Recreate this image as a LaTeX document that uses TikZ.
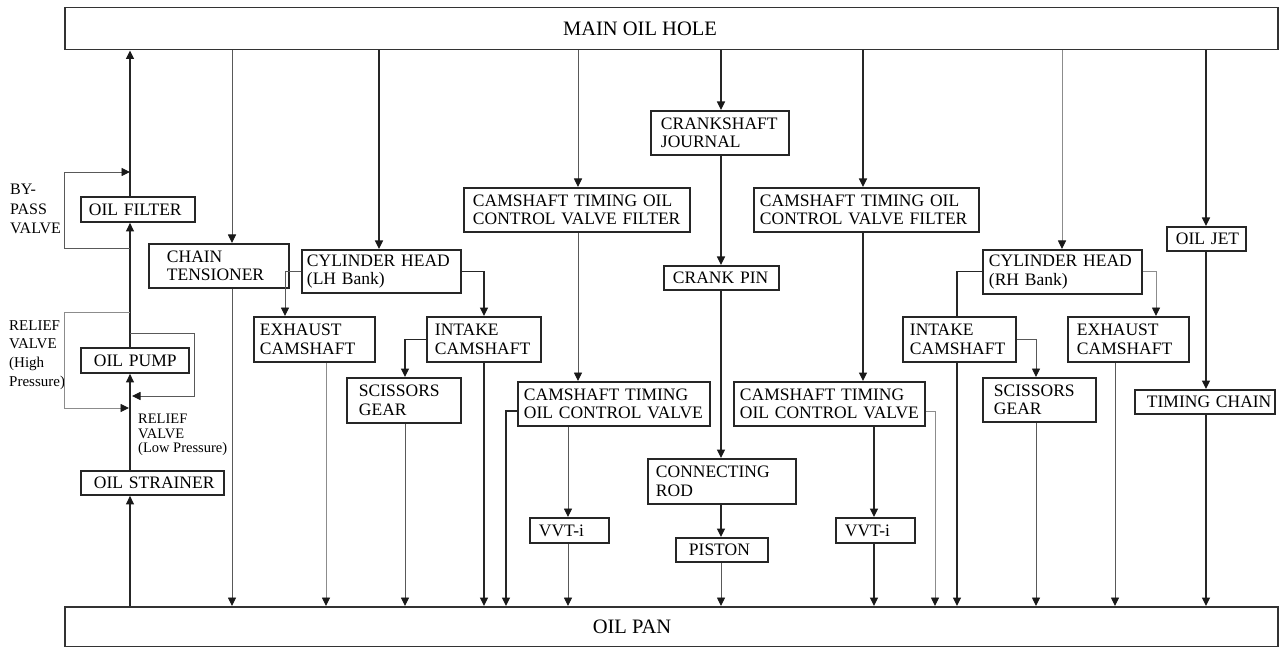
\documentclass[tikz,border=0pt]{standalone}
\usepackage{fontspec}
\setmainfont{Liberation Serif}
\usetikzlibrary{arrows.meta}
\begin{document}
\begin{tikzpicture}[x=1pt,y=-1pt,
  bx/.style={draw=black!85, line width=1.9pt, fill=white, anchor=north west, align=left, inner ysep=0pt, font={\fontsize{17.5}{18.5}\selectfont\hyphenpenalty=10000\exhyphenpenalty=10000}},
  big/.style={draw=black!80, line width=1.5pt, anchor=north west, minimum width=1213pt, inner sep=0pt},
  bigtxt/.style={font=\fontsize{20.5}{22}\selectfont, inner sep=0pt},
  note/.style={align=left, inner sep=0pt, anchor=west},
  ln/.style={draw=black!85, line width=1.1pt},
  lm/.style={draw=black!65, line width=0.9pt},
  ll/.style={draw=black!45, line width=0.9pt},
  >={Triangle[length=8.5pt,width=8pt,color=black!90]}
]
\fill[white] (0,0) rectangle (1283,647);
\useasboundingbox (0,0) rectangle (1283,647);

% column positions
\coordinate (cA) at (130,0);
\coordinate (cB) at (232,0);
\coordinate (cC) at (379,0);
\coordinate (cD) at (285,0);
\coordinate (cE) at (484,0);
\coordinate (cF) at (405,0);
\coordinate (cG) at (326,0);
\coordinate (cH) at (578,0);
\coordinate (cI) at (568,0);
\coordinate (cJ) at (506,0);
\coordinate (cK) at (721,0);
\coordinate (cL) at (863,0);
\coordinate (cM) at (874,0);
\coordinate (cN) at (1062,0);
\coordinate (cO) at (1156,0);
\coordinate (cP) at (1036,0);
\coordinate (cQ) at (1115,0);
\coordinate (cR) at (1206,0);
\coordinate (cS) at (935,0);
\coordinate (cT) at (957,0);

% big boxes
\node[big, minimum height=42pt] (main) at (64,7) {};
\node[bigtxt] (mainlbl) at (640,29) {MAIN OIL HOLE};
\node[big, minimum height=40pt] (pan) at (64,606) {};
\node[bigtxt] (panlbl) at (632,627) {OIL PAN};

% boxes
\node[bx, text width=98pt, inner xsep=8pt, minimum height=25pt] (filter) at (80,196) {OIL~FILTER};
\node[bx, text width=82pt, inner xsep=13pt, minimum height=25pt] (pump) at (80,347) {OIL~PUMP};
\node[bx, text width=117pt, inner xsep=13pt, minimum height=24pt] (strainer) at (80,470) {OIL~STRAINER};
\node[bx, text width=104pt, inner xsep=18pt, minimum height=44pt] (chain) at (148,243) {CHAIN\\TENSIONER};
\node[bx, text width=149pt, inner xsep=5pt, minimum height=43pt] (cylL) at (301,249) {CYLINDER~HEAD\\(LH~Bank)};
\node[bx, text width=109pt, inner xsep=6pt, minimum height=45pt] (exhL) at (253,316) {EXHAUST\\CAMSHAFT};
\node[bx, text width=98pt, inner xsep=8pt, minimum height=45pt] (intL) at (426,316) {INTAKE\\CAMSHAFT};
\node[bx, text width=90pt, inner xsep=12pt, minimum height=45pt] (scL) at (346,377) {SCISSORS\\GEAR};
\node[bx, text width=208pt, inner xsep=9pt, minimum height=44pt] (ctfL) at (463,187) {CAMSHAFT~TIMING~OIL\\CONTROL~VALVE~FILTER};
\node[bx, text width=180pt, inner xsep=6pt, minimum height=44pt] (ctL) at (517,381) {CAMSHAFT~TIMING\\OIL~CONTROL~VALVE};
\node[bx, text width=61pt, inner xsep=9pt, minimum height=25pt] (vvtL) at (529,517) {VVT-i};
\node[bx, text width=118pt, inner xsep=10pt, minimum height=44pt] (cj) at (650,110) {CRANKSHAFT\\JOURNAL};
\node[bx, text width=97pt, inner xsep=9pt, minimum height=24pt] (cpin) at (663,265) {CRANK~PIN};
\node[bx, text width=132pt, inner xsep=8pt, minimum height=45pt] (crod) at (647,458) {CONNECTING\\ROD};
\node[bx, text width=66pt, inner xsep=13pt, minimum height=24pt] (piston) at (675,537) {PISTON};
\node[bx, text width=213pt, inner xsep=6pt, minimum height=44pt] (ctfR) at (753,187) {CAMSHAFT~TIMING~OIL\\CONTROL~VALVE~FILTER};
\node[bx, text width=179pt, inner xsep=6pt, minimum height=44pt] (ctR) at (733,381) {CAMSHAFT~TIMING\\OIL~CONTROL~VALVE};
\node[bx, text width=61pt, inner xsep=9pt, minimum height=25pt] (vvtR) at (835,517) {VVT-i};
\node[bx, text width=99pt, inner xsep=7pt, minimum height=45pt] (intR) at (902,316) {INTAKE\\CAMSHAFT};
\node[bx, text width=147pt, inner xsep=6pt, minimum height=44pt] (cylR) at (982,249) {CYLINDER~HEAD\\(RH~Bank)};
\node[bx, text width=91pt, inner xsep=11pt, minimum height=44pt] (scR) at (982,377) {SCISSORS\\GEAR};
\node[bx, text width=103pt, inner xsep=9pt, minimum height=45pt] (exhR) at (1067,316) {EXHAUST\\CAMSHAFT};
\node[bx, text width=61pt, inner xsep=9pt, minimum height=24pt] (ojet) at (1166,226) {OIL~JET};
\node[bx, text width=116pt, inner xsep=12pt, minimum height=24pt] (tc) at (1134,389) {TIMING~CHAIN};

% notes
\node[note, font=\fontsize{16}{19.5}\selectfont] (bpv) at (10,209) {BY-\\PASS\\VALVE};
\node[note, font=\fontsize{15}{18.7}\selectfont] (rvh) at (9,355) {RELIEF\\VALVE\\(High\\Pressure)};
\node[note, font=\fontsize{14.5}{14.5}\selectfont] (rvl) at (138,435) {RELIEF\\VALVE\\(Low~Pressure)};

% loop coordinates on the main line
\coordinate (bpb) at (130,248);
\coordinate (bpt) at (130,172);
\coordinate (rh1) at (130,312);
\coordinate (rh2) at (129,408);
\coordinate (rl1) at (130,333);
\coordinate (rl2) at (132,396);

% left column
\draw[ln,->] (filter.north -| cA) -- (main.south -| cA);
\draw[ln,->] (pump.north -| cA) -- (filter.south -| cA);
\draw[ln,->] (strainer.north -| cA) -- (pump.south -| cA);
\draw[ln,->] (pan.north -| cA) -- (strainer.south -| cA);
\draw[lm,->] (bpb) -- ++(-66,0) |- (bpt);
\draw[ll,->] (rh1) -- ++(-66,0) |- (rh2);
\draw[lm,->] (rl1) -- ++(64,0) |- (rl2);

% chain tensioner
\draw[lm,->] (main.south -| cB) -- (chain.north -| cB);
\draw[lm,->] (chain.south -| cB) -- (pan.north -| cB);

% LH cylinder head
\draw[ln,->] (main.south -| cC) -- (cylL.north -| cC);
\draw[lm,->] (cylL.west) -| (exhL.north -| cD);
\draw[ln,->] (cylL.east) -| (intL.north -| cE);
\draw[ln,->] (intL.west) -| (scL.north -| cF);
\draw[ll,->] (exhL.south -| cG) -- (pan.north -| cG);
\draw[lm,->] (scL.south -| cF) -- (pan.north -| cF);
\draw[ln,->] (intL.south -| cE) -- (pan.north -| cE);

% LH camshaft timing
\draw[lm,->] (main.south -| cH) -- (ctfL.north -| cH);
\draw[lm,->] (ctfL.south -| cH) -- (ctL.north -| cH);
\draw[lm,->] (ctL.south -| cI) -- (vvtL.north -| cI);
\draw[lm,->] (vvtL.south -| cI) -- (pan.north -| cI);
\draw[ln,->] ([yshift=-7pt]ctL.west) -| (pan.north -| cJ);

% crank
\draw[ln,->] (main.south -| cK) -- (cj.north -| cK);
\draw[ln,->] (cj.south -| cK) -- (cpin.north -| cK);
\draw[ln,->] (cpin.south -| cK) -- (crod.north -| cK);
\draw[ln,->] (crod.south -| cK) -- (piston.north -| cK);
\draw[lm,->] (piston.south -| cK) -- (pan.north -| cK);

% RH camshaft timing
\draw[ln,->] (main.south -| cL) -- (ctfR.north -| cL);
\draw[ln,->] (ctfR.south -| cL) -- (ctR.north -| cL);
\draw[ln,->] (ctR.south -| cM) -- (vvtR.north -| cM);
\draw[ln,->] (vvtR.south -| cM) -- (pan.north -| cM);
\draw[ll,->] ([yshift=-7pt]ctR.east) -| (pan.north -| cS);

% RH cylinder head
\draw[ll,->] (main.south -| cN) -- (cylR.north -| cN);
\draw[ln] (cylR.west) -| (intR.north -| cT);
\draw[ln,->] (intR.south -| cT) -- (pan.north -| cT);
\draw[ll,->] (cylR.east) -| (exhR.north -| cO);
\draw[lm,->] (intR.east) -| (scR.north -| cP);
\draw[lm,->] (scR.south -| cP) -- (pan.north -| cP);
\draw[lm,->] (exhR.south -| cQ) -- (pan.north -| cQ);

% oil jet / timing chain
\draw[ln,->] (main.south -| cR) -- (ojet.north -| cR);
\draw[ln,->] (ojet.south -| cR) -- (tc.north -| cR);
\draw[ln,->] (tc.south -| cR) -- (pan.north -| cR);
\end{tikzpicture}
\end{document}
